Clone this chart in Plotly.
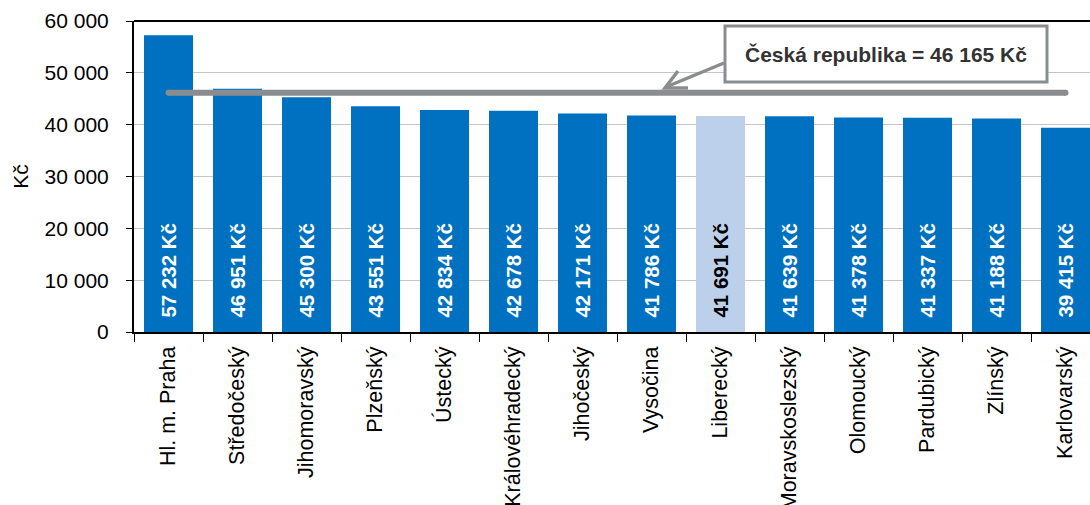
import plotly.graph_objects as go

regions = ["Hl. m. Praha", "Středočeský", "Jihomoravský", "Plzeňský", "Ústecký",
           "Královéhradecký", "Jihočeský", "Vysočina", "Liberecký", "Moravskoslezský",
           "Olomoucký", "Pardubický", "Zlínský", "Karlovarský"]
wages = [57232, 46951, 45300, 43551, 42834, 42678, 42171, 41786, 41691, 41639,
         41378, 41337, 41188, 39415]
highlight = "Liberecký"
cz_avg = 46165
cz_label = "Česká republika = 46 165 Kč"
y_ticks = [0, 10000, 20000, 30000, 40000, 50000, 60000]


def fmt(v):
    return f"{v:,}".replace(",", " ")


FONT = "Liberation Sans, Arial, sans-serif"
colors = ["#BDD0EB" if r == highlight else "#0070C0" for r in regions]
text_colors = ["#000000" if r == highlight else "#FFFFFF" for r in regions]
labels = ["\u00a0\u00a0" + f"{fmt(v)} Kč" for v in wages]

# plot-area geometry in pixels (used only to place the callout decoration)
L, R, T, B = 134, 1090, 21, 332
W, H = R - L, B - T


def px(x):
    return (x - L) / W


def py(y):
    return (B - y) / H


fig = go.Figure()
fig.add_trace(go.Bar(
    x=regions, y=wages, marker=dict(color=colors, line=dict(width=0)),
    width=0.71, text=labels, textposition="inside", insidetextanchor="start",
    textangle=-90, constraintext="none",
    textfont=dict(family=FONT, size=20.5, color=text_colors, weight="bold"),
    hoverinfo="skip",
))
fig.add_trace(go.Scatter(
    x=[regions[0], regions[-1]], y=[cz_avg, cz_avg], mode="lines+markers",
    line=dict(color="#8A8D90", width=6),
    marker=dict(color="#8A8D90", size=6, line=dict(width=0)),
    hoverinfo="skip",
))

fig.update_layout(
    width=1090, height=505,
    margin=dict(l=L, r=0, t=T, b=505 - B),
    paper_bgcolor="white", plot_bgcolor="white",
    showlegend=False,
    font=dict(family=FONT, size=21, color="#000000"),
    xaxis=dict(
        range=[-0.5, -0.5 + W / 69.0], tickangle=-90, showline=True,
        linecolor="#000000", linewidth=2, ticks="outside", tickson="boundaries",
        ticklen=8, tickcolor="#000000", tickwidth=1, tickfont=dict(size=21.5),
        ticklabelstandoff=4, showgrid=False, automargin=False, fixedrange=True,
    ),
    yaxis=dict(
        range=[0, 60000], tickvals=y_ticks, ticktext=[fmt(v) for v in y_ticks],
        showline=True, linecolor="#000000", linewidth=2, ticks="outside", ticklen=6,
        tickcolor="#000000", tickfont=dict(size=21), showgrid=True,
        gridcolor="#C6C6C6", gridwidth=1, zeroline=False, automargin=False,
        ticklabelstandoff=13, fixedrange=True,
        title=dict(text="Kč", font=dict(size=21), standoff=10),
    ),
)

# top frame line
fig.add_shape(type="line", xref="paper", yref="paper", x0=0, x1=1, y0=1, y1=1,
              line=dict(color="#000000", width=2))
# callout box
fig.add_shape(type="rect", xref="paper", yref="paper",
              x0=px(725), x1=px(1047), y0=py(82), y1=py(26),
              line=dict(color="#8A8D90", width=3), fillcolor="white", layer="above")
fig.add_annotation(
    x=px(886), y=py(54), xref="paper", yref="paper", xanchor="center",
    yanchor="middle", showarrow=False, text=f"<b>{cz_label}</b>",
    font=dict(size=21, color="#333333"),
)
# arrow shaft and head
fig.add_shape(type="line", xref="paper", yref="paper",
              x0=px(724), y0=py(63), x1=px(666), y1=py(87),
              line=dict(color="#8A8D90", width=3.5))
fig.add_shape(type="path", xref="paper", yref="paper",
              path=f"M {px(688)},{py(88)} L {px(665)},{py(88)} L {px(678)},{py(71)}",
              line=dict(color="#8A8D90", width=3.5))

fig.write_html("out.html", config={"displayModeBar": False},
               post_script="document.body.style.margin='0';document.body.style.overflow='hidden';")
